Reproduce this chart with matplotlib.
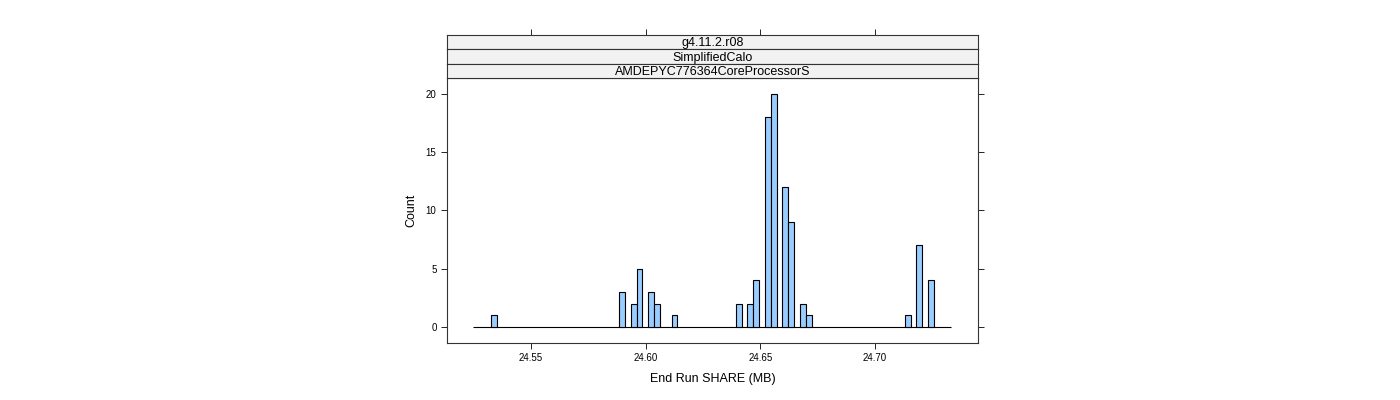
import numpy as np
import matplotlib
matplotlib.use("Agg")
import matplotlib.pyplot as plt

plt.rcParams['font.family'] = ['Liberation Sans', 'DejaVu Sans']

# histogram data: centres of the non-empty bins and their counts
bin_lo = 24.5248
bin_hi = 24.7333
n_bins = 82
share_mb = [24.5337, 24.5896, 24.5947, 24.5973, 24.6023, 24.6049, 24.6125,
            24.6405, 24.6456, 24.6481, 24.6532, 24.6558, 24.6608, 24.6634,
            24.6685, 24.6710, 24.7142, 24.7193, 24.7244]
counts = [1, 3, 2, 5, 3, 2, 1,
          2, 2, 4, 18, 20, 12, 9,
          2, 1, 1, 7, 4]
strips = ["g4.11.2.r08", "SimplifiedCalo", "AMDEPYC776364CoreProcessorS"]
xticks = [24.55, 24.60, 24.65, 24.70]
yticks = [0, 5, 10, 15, 20]

W, H = 1400, 400
fig = plt.figure(figsize=(14, 4), dpi=100)

left, right = 446.7, 978.3
top, bottom = 78, 343.3
ax = fig.add_axes([left / W, 1 - bottom / H, (right - left) / W, (bottom - top) / H])

edges = np.linspace(bin_lo, bin_hi, n_bins + 1)
n, b, patches = ax.hist(share_mb, bins=edges, weights=counts, color="#99ccff",
                        edgecolor="black", linewidth=0.8, zorder=3)
# empty bins collapse to a flat line, like lattice draws them
for p, h in zip(patches, n):
    if h == 0:
        p.set_visible(False)
ax.hlines(0, edges[0], edges[-1], color="black", linewidth=0.8, zorder=2)

ax.set_xlim(24.5132, 24.7450)
ax.set_ylim(-1.4, 21.37)
ax.set_xticks(xticks)
ax.set_xticklabels([f"{v:.2f}" for v in xticks])
ax.set_yticks(yticks)
ax.tick_params(axis="both", direction="out", length=4.3, width=0.6,
               labelsize=7, pad=3)
ax.tick_params(axis="y", right=True)
for s in ax.spines.values():
    s.set_linewidth(0.8)
    s.set_color("#333333")
ax.set_xlabel("End Run SHARE (MB)", fontsize=9, labelpad=7)
ax.set_ylabel("Count", fontsize=9, labelpad=6)

# strips above the panel
strip_h = (top - 35) / 3
for i, label in enumerate(strips):
    y0 = 35 + i * strip_h
    sax = fig.add_axes([left / W, 1 - (y0 + strip_h) / H, (right - left) / W, strip_h / H])
    sax.set_facecolor("#f2f2f2")
    sax.set_xlim(ax.get_xlim())
    sax.set_yticks([])
    for s in sax.spines.values():
        s.set_linewidth(0.8)
        s.set_color("#333333")
    sax.text(0.5, 0.42, label, transform=sax.transAxes, ha="center",
             va="center", fontsize=9)
    if i == 0:
        sax.set_xticks(xticks)
        sax.tick_params(axis="x", top=True, bottom=False, labeltop=False,
                        labelbottom=False, direction="out", length=4.3, width=0.6)
    else:
        sax.set_xticks([])

fig.savefig("out.png", dpi=100)
